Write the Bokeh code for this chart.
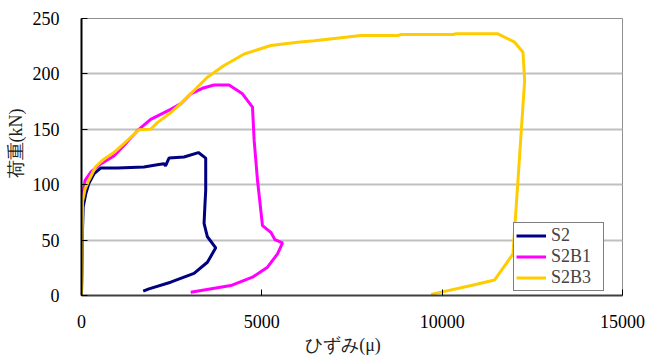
from bokeh.plotting import figure
from bokeh.models import Range1d, FixedTicker, Legend, LegendItem
from bokeh.embed import file_html
from bokeh.resources import INLINE

# S2 (navy)
s2_x = [0, 10, 20, 47, 120, 203, 350, 528, 1000, 1731, 2100, 2287, 2330, 2426, 2842, 3241, 3444,
        3444, 3420, 3398, 3491, 3722, 3491, 3120, 2472, 1870, 1711]
s2_y = [0, 20, 50, 80, 92, 101, 110, 115, 115, 116, 118, 119, 117, 124, 125, 129, 124,
        95, 80, 65, 53, 43, 30, 20, 12, 6, 4]

# S2B1 (magenta)
s2b1_x = [0, 10, 30, 100, 250, 500, 897, 1250, 1592, 1917, 2472, 2750, 3028, 3352, 3676, 4092,
          4463, 4741, 4787, 4880, 5018, 5250, 5361, 5574, 5435, 5157, 4741, 4139, 3398, 3028]
s2b1_y = [0, 50, 90, 104, 111, 118, 126, 138, 150, 159, 168, 173, 182, 187, 190, 190,
          182, 170, 140, 104, 63, 57, 50.5, 47.5, 37.6, 25.6, 16.5, 9, 5, 3]

# S2B3 (yellow)
s2b3_x = [0, 10, 30, 100, 203, 389, 620, 897, 1175, 1592, 1917, 2102, 2472, 2750, 3120, 3491,
          3954, 4509, 5250, 5990, 6453, 7750, 8769, 8861, 10296, 10389, 11546, 12009, 12241,
          12287, 12194, 12102, 11963, 11870, 11454, 10806, 9694]
s2b3_y = [0, 45, 85, 96, 104, 116, 123, 129, 137, 149.5, 150, 156, 165, 173, 185, 197,
          207.6, 218, 225.6, 228.6, 230, 234.6, 234.6, 235.6, 235.6, 236.2, 236.2, 228.6, 219.6,
          194, 149, 104, 37.6, 33, 14, 9, 1]

x_ticks = [0, 5000, 10000, 15000]
y_ticks = [0, 50, 100, 150, 200, 250]
series_names = ["S2", "S2B1", "S2B3"]
series_colors = ["#000080", "#FF00FF", "#FFCC00"]

SERIF = "Liberation Serif"
NB = "\u00a0"

p = figure(width=649, height=361, output_backend="svg", toolbar_location=None,
           x_range=Range1d(0, 15000), y_range=Range1d(0, 250),
           min_border_left=81, min_border_right=27, min_border_top=18, min_border_bottom=66)
p.background_fill_color = "white"
p.border_fill_color = "white"
p.outline_line_color = "#909090"
p.outline_line_width = 1

r1 = p.line(s2_x, s2_y, line_color=series_colors[0], line_width=3)
r2 = p.line(s2b1_x, s2b1_y, line_color=series_colors[1], line_width=3)
r3 = p.line(s2b3_x, s2b3_y, line_color=series_colors[2], line_width=3)

p.xgrid.visible = False
p.ygrid.grid_line_color = "#c0c0c0"
p.ygrid.grid_line_width = 2

p.xaxis.ticker = FixedTicker(ticks=x_ticks)
p.yaxis.ticker = FixedTicker(ticks=y_ticks)
for ax in (p.xaxis[0], p.yaxis[0]):
    ax.major_tick_in = 6
    ax.major_tick_out = 0
    ax.minor_tick_in = 0
    ax.minor_tick_out = 0
    ax.major_tick_line_color = "black"
    ax.major_label_text_font = SERIF
    ax.major_label_text_font_size = "18px"
    ax.major_label_text_color = "black"
    ax.axis_label_text_font = SERIF
    ax.axis_label_text_font_size = "18px"
    ax.axis_label_text_font_style = "normal"
    ax.axis_label_text_color = "#202020"
    ax.axis_label_standoff = 4

p.xaxis.axis_label = "ひずみ(μ)" + NB * 4
p.yaxis.axis_label = NB * 6 + "荷重(kN)"
p.xaxis.major_label_standoff = 19
p.yaxis.major_label_standoff = 22
p.xaxis.axis_line_color = "#404040"
p.xaxis.axis_line_width = 2
p.yaxis.axis_line_color = "black"
p.yaxis.axis_line_width = 2

legend = Legend(items=[LegendItem(label=series_names[0], renderers=[r1]),
                       LegendItem(label=series_names[1], renderers=[r2]),
                       LegendItem(label=series_names[2], renderers=[r3])],
                location=(432, 4), margin=0, padding=2, spacing=0,
                glyph_width=30, glyph_height=17, label_height=17, label_width=50,
                label_standoff=5, label_text_line_height=1.0,
                label_text_font=SERIF, label_text_font_size="18px",
                border_line_color="black", border_line_width=1,
                background_fill_color="white", background_fill_alpha=1)
p.add_layout(legend, "center")

open("out.html", "w").write(file_html(p, INLINE))
